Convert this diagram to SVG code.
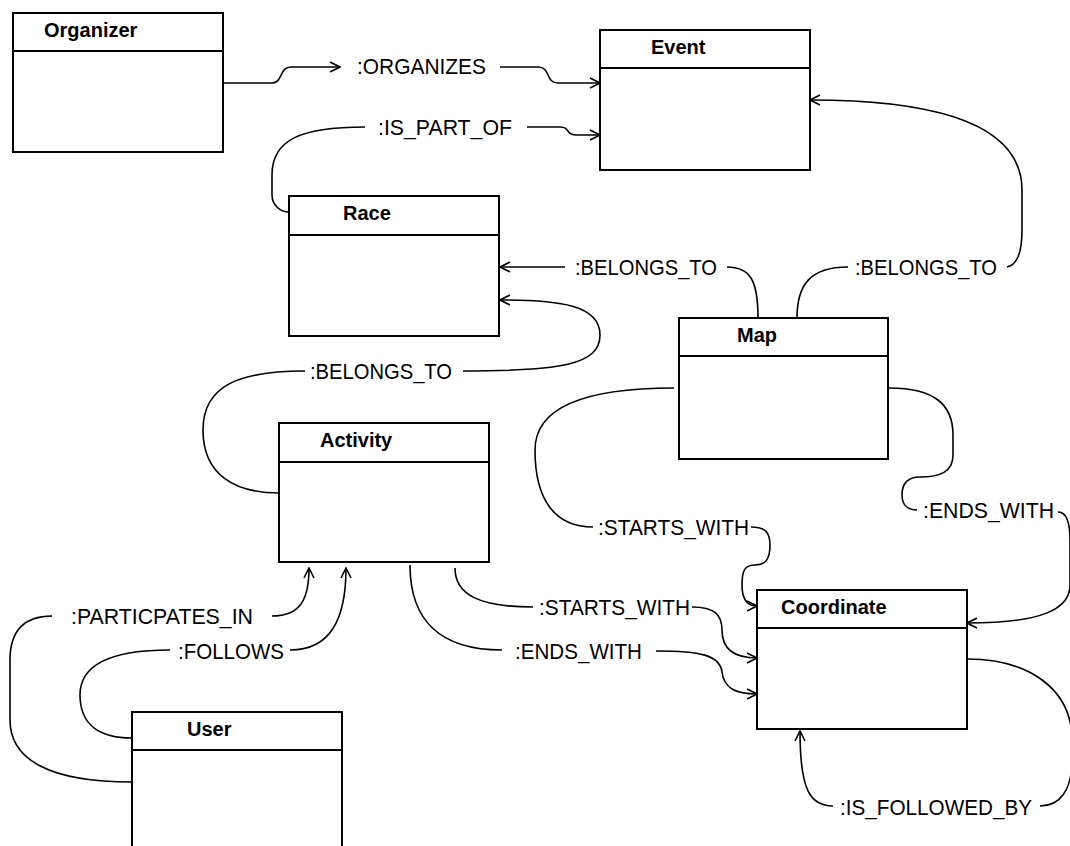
<svg xmlns="http://www.w3.org/2000/svg" width="1070" height="846" viewBox="0 0 1070 846">
  <style>
    .box { fill: #ffffff; stroke: #000000; stroke-width: 2; }
    .sep { stroke: #000000; stroke-width: 2; }
    .title { font-family: "Liberation Sans", Arial, sans-serif; font-weight: bold; font-size: 20px; fill: #000000; }
    .lbl { font-family: "Liberation Sans", Arial, sans-serif; font-size: 22px; fill: #000000; }
    .edge { fill: none; stroke: #000000; stroke-width: 1.6; }
    .arr { marker-end: url(#open); }
  </style>
  <defs>
    <marker id="open" viewBox="0 0 12 12" refX="11" refY="6" markerWidth="12" markerHeight="12" markerUnits="userSpaceOnUse" orient="auto">
      <path d="M1,1 L11,6 L1,11" fill="none" stroke="#000000" stroke-width="1.6"/>
    </marker>
  </defs>
  <rect width="1070" height="846" fill="#ffffff"/>

  <g id="connectors">
    <!-- Organizer ORGANIZES Event -->
    <path class="edge arr" d="M223,83 H272 C283,83 279,67 291,67 H340"/>
    <path class="edge arr" d="M500,67 H538 C551,67 545,83 558,83 H600"/>
    <!-- Race IS_PART_OF Event -->
    <path class="edge" d="M365,127 C300,127 272,140 272,175 V195 C272,205 280,212 289,212"/>
    <path class="edge arr" d="M527,127 H560 C571,127 565,135 576,135 H600"/>
    <!-- Map BELONGS_TO Race -->
    <path class="edge arr" d="M565,267 H500"/>
    <path class="edge" d="M727,267 C750,267 758,280 758,318"/>
    <!-- Map BELONGS_TO Event -->
    <path class="edge" d="M797,318 C797,285 810,267 848,267"/>
    <path class="edge arr" d="M1007,267 C1018,265 1022,252 1022,230 V190 C1022,130 950,100 810,100"/>
    <!-- Activity BELONGS_TO Race -->
    <path class="edge arr" d="M463,371 C560,371 600,365 600,335 C600,305 560,300 500,300"/>
    <path class="edge" d="M305,371 C240,371 203,385 203,430 C203,475 235,493 279,493"/>
    <!-- Map STARTS_WITH Coordinate -->
    <path class="edge" d="M674,388 C590,388 535,405 535,450 C535,500 555,527 593,527"/>
    <path class="edge arr" d="M751,527 C765,527 770,532 770,545 C770,560 765,565 755,565 C745,565 742,570 742,585 C742,600 748,606 757,606"/>
    <!-- Map ENDS_WITH Coordinate -->
    <path class="edge" d="M889,388 C935,388 953,405 953,435 V455 C953,472 940,477 920,477 C906,477 902,485 902,495 C902,505 908,510 917,510"/>
    <path class="edge arr" d="M1058,512 C1066,512 1070,520 1070,540 V585 C1070,610 1040,623 967,623"/>
    <!-- Activity STARTS_WITH Coordinate -->
    <path class="edge" d="M455,568 C455,595 480,607 533,607"/>
    <path class="edge arr" d="M692,607 C715,607 722,615 722,630 C722,650 735,658 757,658"/>
    <!-- Activity ENDS_WITH Coordinate -->
    <path class="edge" d="M410,565 C410,620 440,650 502,650"/>
    <path class="edge arr" d="M656,651 C700,651 720,655 722,672 C724,688 735,694 757,694"/>
    <!-- User PARTICPATES_IN Activity -->
    <path class="edge" d="M52,616 C25,616 10,630 10,660 V720 C10,760 50,782 132,782"/>
    <path class="edge arr" d="M272,616 C300,616 309,600 309,568"/>
    <!-- User FOLLOWS Activity -->
    <path class="edge" d="M170,650 C110,650 80,665 80,695 C80,725 100,738 132,738"/>
    <path class="edge arr" d="M290,650 C330,650 346,620 346,568"/>
    <!-- Coordinate IS_FOLLOWED_BY Coordinate -->
    <path class="edge arr" d="M833,806 C810,806 800,790 800,731"/>
    <path class="edge" d="M1040,806 C1060,806 1072,790 1072,760 V740 C1072,690 1030,659 967,659"/>
  </g>

  <g id="edge-labels">
    <text class="lbl" x="357" y="74" textLength="129" lengthAdjust="spacingAndGlyphs">:ORGANIZES</text>
    <text class="lbl" x="378" y="135" textLength="134" lengthAdjust="spacingAndGlyphs">:IS_PART_OF</text>
    <text class="lbl" x="575" y="275" textLength="142" lengthAdjust="spacingAndGlyphs">:BELONGS_TO</text>
    <text class="lbl" x="855" y="275" textLength="142" lengthAdjust="spacingAndGlyphs">:BELONGS_TO</text>
    <text class="lbl" x="310" y="379" textLength="142" lengthAdjust="spacingAndGlyphs">:BELONGS_TO</text>
    <text class="lbl" x="598" y="535" textLength="151" lengthAdjust="spacingAndGlyphs">:STARTS_WITH</text>
    <text class="lbl" x="923" y="518" textLength="131" lengthAdjust="spacingAndGlyphs">:ENDS_WITH</text>
    <text class="lbl" x="539" y="615" textLength="151" lengthAdjust="spacingAndGlyphs">:STARTS_WITH</text>
    <text class="lbl" x="515" y="659" textLength="127" lengthAdjust="spacingAndGlyphs">:ENDS_WITH</text>
    <text class="lbl" x="71" y="624" textLength="182" lengthAdjust="spacingAndGlyphs">:PARTICPATES_IN</text>
    <text class="lbl" x="178" y="659" textLength="106" lengthAdjust="spacingAndGlyphs">:FOLLOWS</text>
    <text class="lbl" x="840" y="815" textLength="192" lengthAdjust="spacingAndGlyphs">:IS_FOLLOWED_BY</text>
  </g>

  <g id="organizer">
    <rect class="box" x="13" y="13" width="210" height="139"/>
    <line class="sep" x1="13" y1="51" x2="223" y2="51"/>
    <text class="title" x="44" y="37">Organizer</text>
  </g>
  <g id="event">
    <rect class="box" x="600" y="30" width="210" height="140"/>
    <line class="sep" x1="600" y1="68" x2="810" y2="68"/>
    <text class="title" x="651" y="54">Event</text>
  </g>
  <g id="race">
    <rect class="box" x="289" y="196" width="210" height="140"/>
    <line class="sep" x1="289" y1="235" x2="499" y2="235"/>
    <text class="title" x="343" y="220">Race</text>
  </g>
  <g id="map">
    <rect class="box" x="679" y="318" width="209" height="141"/>
    <line class="sep" x1="679" y1="356" x2="888" y2="356"/>
    <text class="title" x="737" y="342">Map</text>
  </g>
  <g id="activity">
    <rect class="box" x="279" y="423" width="210" height="139"/>
    <line class="sep" x1="279" y1="462" x2="489" y2="462"/>
    <text class="title" x="320" y="447">Activity</text>
  </g>
  <g id="coordinate">
    <rect class="box" x="757" y="590" width="210" height="139"/>
    <line class="sep" x1="757" y1="628" x2="967" y2="628"/>
    <text class="title" x="781" y="614">Coordinate</text>
  </g>
  <g id="user">
    <rect class="box" x="132" y="712" width="210" height="150"/>
    <line class="sep" x1="132" y1="750" x2="342" y2="750"/>
    <text class="title" x="187" y="736">User</text>
  </g>
</svg>
